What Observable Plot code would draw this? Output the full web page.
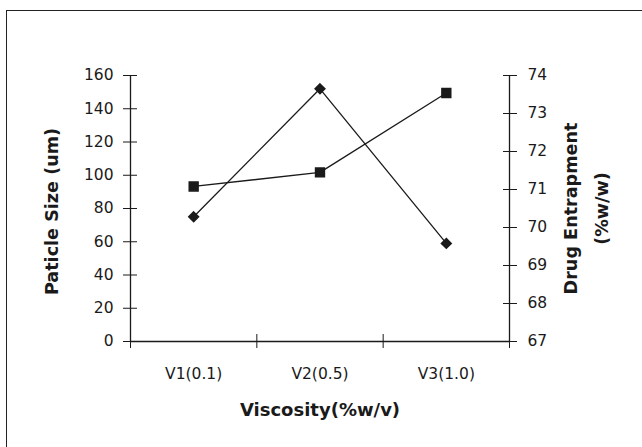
<!DOCTYPE html>
<html>
<head>
<meta charset="utf-8">
<script src="https://cdn.jsdelivr.net/npm/d3@7"></script>
<script src="https://cdn.jsdelivr.net/npm/@observablehq/plot@0.6"></script>
<style>
  html, body { margin: 0; padding: 0; background: #fff; overflow: hidden; }
  #wrap { position: relative; width: 642px; height: 447px; overflow: hidden; }
  #frame { position: absolute; left: 6px; top: 10px; width: 700px; height: 500px; border: 1.5px solid #222; box-sizing: border-box; }
  #chart { position: absolute; left: 0; top: 0; }
</style>
</head>
<body>
<div id="wrap"><div id="frame"></div><div id="chart"></div></div>
<script>
const categories = ["V1(0.1)", "V2(0.5)", "V3(1.0)"];
const particleSize = [75, 152, 59];           // left axis (um)
const drugEntrapment = [71.08, 71.45, 73.54]; // right axis (%w/w)
const leftTicks = [0, 20, 40, 60, 80, 100, 120, 140, 160];
const rightTicks = [67, 68, 69, 70, 71, 72, 73, 74];
const leftDomain = [0, 160];
const rightDomain = [67, 74];

const toLeft = v => (v - rightDomain[0]) * (leftDomain[1] - leftDomain[0]) / (rightDomain[1] - rightDomain[0]) + leftDomain[0];
const fromLeft = v => (v - leftDomain[0]) * (rightDomain[1] - rightDomain[0]) / (leftDomain[1] - leftDomain[0]) + rightDomain[0];

const sizeData = categories.map((c, i) => ({pos: i + 0.5, value: particleSize[i]}));
const entrapData = categories.map((c, i) => ({pos: i + 0.5, value: toLeft(drugEntrapment[i])}));
const bandEdges = d3.range(categories.length + 1);
const bandCenters = categories.map((c, i) => i + 0.5);

const ink = "#1a1a1a";
const font = "DejaVu Sans, sans-serif";

const chart = Plot.plot({
  width: 642,
  height: 447,
  marginLeft: 130,
  marginRight: 133,
  marginTop: 75,
  marginBottom: 106,
  style: {fontFamily: font, fontSize: "15.5px", color: ink, background: "transparent", overflow: "visible"},
  x: {domain: [0, categories.length], axis: null},
  y: {domain: leftDomain, axis: null},
  marks: [
    // axis lines
    Plot.ruleX([0], {stroke: ink, strokeWidth: 1.3}),
    Plot.ruleX([categories.length], {stroke: ink, strokeWidth: 1.3}),
    Plot.ruleY([0], {stroke: ink, strokeWidth: 1.3}),
    // left ticks (crossing)
    Plot.axisY({anchor: "left", ticks: leftTicks, tickSize: 14, dx: 7, tickFormat: () => "", label: null, stroke: ink}),
    Plot.axisY({anchor: "left", ticks: leftTicks, tickSize: 0, tickPadding: 17, label: null, fill: ink, fontSize: 15.5}),
    // right ticks (crossing)
    Plot.axisY({anchor: "right", ticks: rightTicks.map(toLeft), tickSize: 14, dx: -7, tickFormat: () => "", label: null, stroke: ink}),
    Plot.axisY({anchor: "right", ticks: rightTicks.map(toLeft), tickSize: 0, tickPadding: 18, label: null, fill: ink, fontSize: 15.5,
      tickFormat: d => String(Math.round(fromLeft(d)))}),
    // bottom ticks (crossing) at band edges
    Plot.axisX({anchor: "bottom", ticks: bandEdges, tickSize: 14, dy: -7, tickFormat: () => "", label: null, stroke: ink}),
    Plot.axisX({anchor: "bottom", ticks: bandCenters, tickSize: 0, tickPadding: 26, label: null, fill: ink, fontSize: 15.5,
      tickFormat: d => categories[Math.floor(d)]}),
    // series
    Plot.line(sizeData, {x: "pos", y: "value", stroke: ink, strokeWidth: 1.3}),
    Plot.dot(sizeData, {x: "pos", y: "value", symbol: "diamond2", r: 4.4, fill: ink, stroke: ink}),
    Plot.line(entrapData, {x: "pos", y: "value", stroke: ink, strokeWidth: 1.3}),
    Plot.dot(entrapData, {x: "pos", y: "value", symbol: "square", r: 5.0, fill: ink, stroke: ink}),
    // titles
    Plot.text(["Paticle Size (um)"], {frameAnchor: "left", textAnchor: "middle", lineAnchor: "middle", dx: -78, dy: 3, rotate: -90, fontWeight: "bold", fontSize: 17.6, fill: ink}),
    Plot.text(["Drug Entrapment"], {frameAnchor: "right", textAnchor: "middle", lineAnchor: "middle", dx: 62, rotate: -90, fontWeight: "bold", fontSize: 17.6, fill: ink}),
    Plot.text(["(%w/w)"], {frameAnchor: "right", textAnchor: "middle", lineAnchor: "middle", dx: 93, rotate: -90, fontWeight: "bold", fontSize: 17.6, fill: ink}),
    Plot.text(["Viscosity(%w/v)"], {frameAnchor: "bottom", textAnchor: "middle", lineAnchor: "middle", dy: 69, fontWeight: "bold", fontSize: 18, fill: ink})
  ]
});
document.getElementById("chart").appendChild(chart);
</script>
</body>
</html>
